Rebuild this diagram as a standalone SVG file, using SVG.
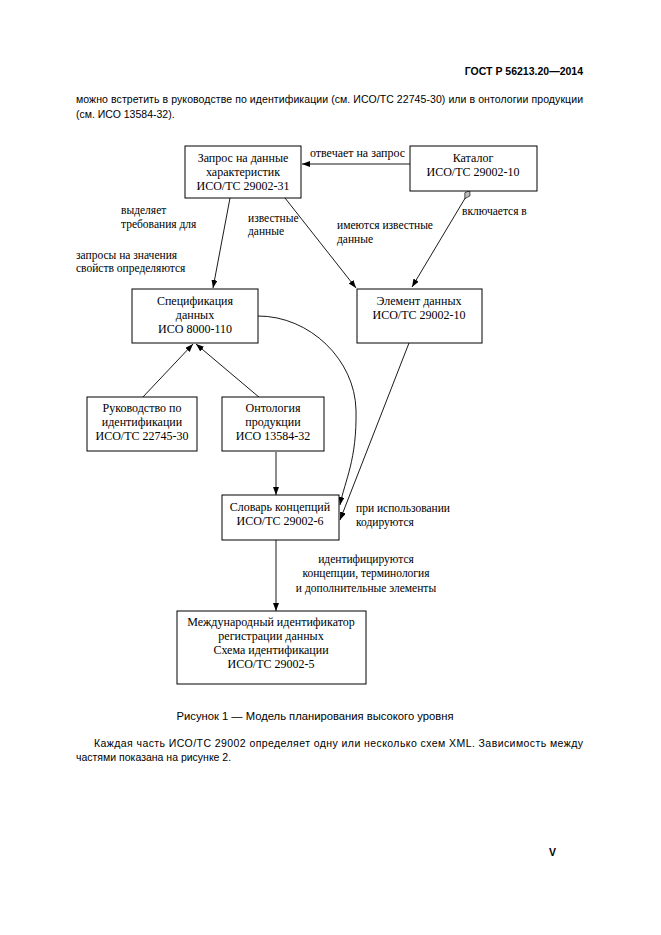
<svg xmlns="http://www.w3.org/2000/svg" width="661" height="935" viewBox="0 0 661 935">
<defs>
<style>
.box{fill:#fff;stroke:#000;stroke-width:1}
.t{font-family:"Liberation Serif","Times New Roman",serif;font-size:12px;fill:#000;text-anchor:middle}
.lbl{font-family:"Liberation Serif","Times New Roman",serif;font-size:11.5px;fill:#000}
.pg{font-family:"Liberation Sans",Arial,sans-serif;font-size:10.5px;fill:#000}
.c{fill:none;stroke:#000;stroke-width:0.9}
</style>
<marker id="ah" markerUnits="userSpaceOnUse" markerWidth="9" markerHeight="7" refX="8" refY="3" orient="auto">
<path d="M0,0 L8,3 L0,6 z" fill="#000"/>
</marker>
<marker id="dm" markerUnits="userSpaceOnUse" markerWidth="11" markerHeight="7" refX="0" refY="3.5" orient="auto">
<path d="M0.5,3.5 L5,0.5 L10,3.5 L5,6.5 z" fill="#bdbdbd" stroke="#000" stroke-width="0.6"/>
</marker>
</defs>
<rect width="661" height="935" fill="#fff"/>

<g id="page-text">
<text class="pg" x="583" y="75" text-anchor="end" font-weight="bold" font-size="11">ГОСТ Р 56213.20—2014</text>
<text class="pg" x="76" y="103" textLength="507" lengthAdjust="spacing">можно встретить в руководстве по идентификации (см. ИСО/ТС 22745-30) или в онтологии продукции</text>
<text class="pg" x="76" y="118">(см. ИСО 13584-32).</text>
<text class="pg" x="315" y="720" text-anchor="middle" textLength="277" lengthAdjust="spacingAndGlyphs" font-size="11">Рисунок 1 — Модель планирования высокого уровня</text>
<text class="pg" x="94" y="747" textLength="489" lengthAdjust="spacing">Каждая часть ИСО/ТС 29002 определяет одну или несколько схем XML. Зависимость между</text>
<text class="pg" x="76" y="761">частями показана на рисунке 2.</text>
<text class="pg" x="549" y="856" font-weight="bold" font-size="11">V</text>
</g>

<g id="connectors">
<line class="c" x1="410" y1="164" x2="302" y2="164" marker-end="url(#ah)"/>
<line class="c" x1="230" y1="198" x2="213" y2="288" marker-end="url(#ah)"/>
<line class="c" x1="285" y1="198" x2="356" y2="288" marker-end="url(#ah)"/>
<line class="c" x1="470" y1="190" x2="412" y2="287" marker-start="url(#dm)" marker-end="url(#ah)"/>
<line class="c" x1="142" y1="398" x2="193" y2="344" marker-end="url(#ah)"/>
<line class="c" x1="260" y1="398" x2="196" y2="344" marker-end="url(#ah)"/>
<path class="c" d="M258,316 C310,316 355,360 356,410 S345,480 340,505" marker-end="url(#ah)"/>
<line class="c" x1="409" y1="343" x2="340" y2="520" marker-end="url(#ah)"/>
<line class="c" x1="276" y1="452" x2="276" y2="495" marker-end="url(#ah)"/>
<line class="c" x1="276" y1="540" x2="276" y2="611" marker-end="url(#ah)"/>
</g>

<g id="labels">
<text class="lbl" x="310" y="157" textLength="95" lengthAdjust="spacingAndGlyphs">отвечает на запрос</text>
<text class="lbl" x="121" y="214">выделяет</text>
<text class="lbl" x="121" y="228">требования для</text>
<text class="lbl" x="76" y="259">запросы на значения</text>
<text class="lbl" x="76" y="272">свойств определяются</text>
<text class="lbl" x="248" y="222">известные</text>
<text class="lbl" x="248" y="235">данные</text>
<text class="lbl" x="337" y="229">имеются известные</text>
<text class="lbl" x="337" y="243">данные</text>
<text class="lbl" x="462" y="215">включается в</text>
<text class="lbl" x="356" y="512">при использовании</text>
<text class="lbl" x="356" y="526">кодируются</text>
<text class="lbl" x="366" y="563" text-anchor="middle">идентифицируются</text>
<text class="lbl" x="366" y="577" text-anchor="middle">концепции, терминология</text>
<text class="lbl" x="366" y="592" text-anchor="middle">и дополнительные элементы</text>
</g>

<g id="zapros">
<rect class="box" x="185" y="146" width="116" height="52"/>
<text class="t" x="243" y="162">Запрос на данные</text>
<text class="t" x="243" y="176">характеристик</text>
<text class="t" x="243" y="190">ИСО/ТС 29002-31</text>
</g>
<g id="katalog">
<rect class="box" x="410" y="146" width="127" height="45"/>
<text class="t" x="473" y="162">Каталог</text>
<text class="t" x="473" y="176">ИСО/ТС 29002-10</text>
</g>
<g id="specifikaciya">
<rect class="box" x="132" y="289" width="126" height="54"/>
<text class="t" x="195" y="305">Спецификация</text>
<text class="t" x="195" y="319">данных</text>
<text class="t" x="195" y="333">ИСО 8000-110</text>
</g>
<g id="element">
<rect class="box" x="357" y="289" width="125" height="54"/>
<text class="t" x="419" y="305">Элемент данных</text>
<text class="t" x="419" y="319">ИСО/ТС 29002-10</text>
</g>
<g id="rukovodstvo">
<rect class="box" x="87" y="397" width="110" height="54"/>
<text class="t" x="142" y="412">Руководство по</text>
<text class="t" x="142" y="426">идентификации</text>
<text class="t" x="142" y="440">ИСО/ТС 22745-30</text>
</g>
<g id="ontologiya">
<rect class="box" x="222" y="397" width="102" height="54"/>
<text class="t" x="273" y="412">Онтология</text>
<text class="t" x="273" y="426">продукции</text>
<text class="t" x="273" y="440">ИСО 13584-32</text>
</g>
<g id="slovar">
<rect class="box" x="222" y="495" width="117" height="45"/>
<text class="t" x="280" y="511">Словарь концепций</text>
<text class="t" x="280" y="525">ИСО/ТС 29002-6</text>
</g>
<g id="mezhdunarodny">
<rect class="box" x="177" y="611" width="189" height="73"/>
<text class="t" x="271" y="626">Международный идентификатор</text>
<text class="t" x="271" y="640">регистрации данных</text>
<text class="t" x="271" y="654">Схема идентификации</text>
<text class="t" x="271" y="668">ИСО/ТС 29002-5</text>
</g>
</svg>
